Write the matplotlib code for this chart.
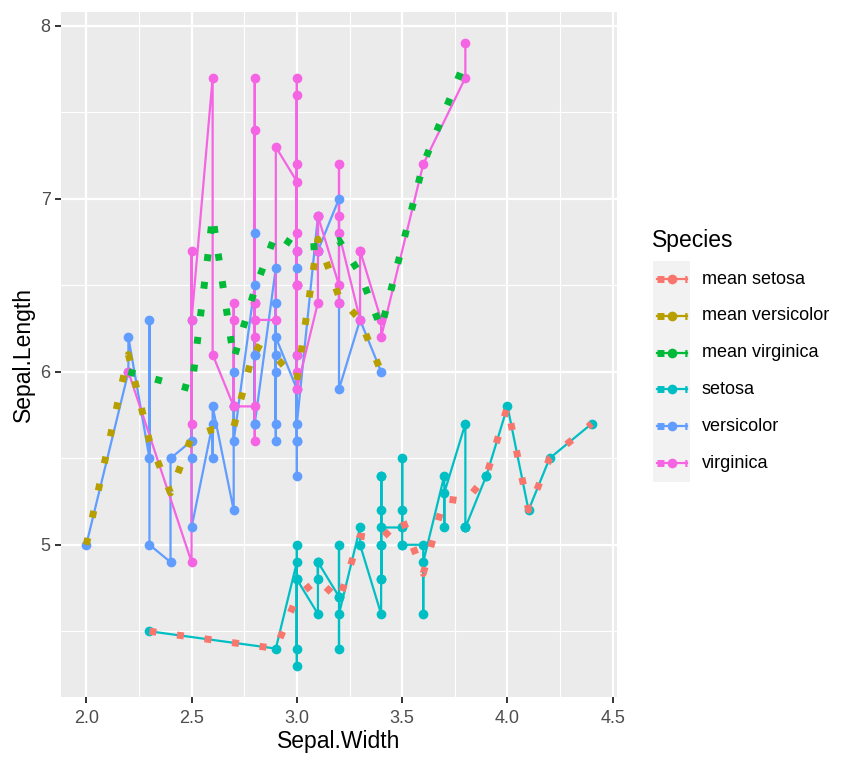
import numpy as np
import pandas as pd
import matplotlib.pyplot as plt
from matplotlib.lines import Line2D
from matplotlib.patches import Rectangle

plt.rcParams['font.family'] = ['Liberation Sans', 'DejaVu Sans']

# iris sepal measurements, per species
setosa_width = [3.5, 3.0, 3.2, 3.1, 3.6, 3.9, 3.4, 3.4, 2.9, 3.1, 3.7, 3.4, 3.0, 3.0, 4.0, 4.4, 3.9, 3.5, 3.8, 3.8,
                3.4, 3.7, 3.6, 3.3, 3.4, 3.0, 3.4, 3.5, 3.4, 3.2, 3.1, 3.4, 4.1, 4.2, 3.1, 3.2, 3.5, 3.6, 3.0, 3.4,
                3.5, 2.3, 3.2, 3.5, 3.8, 3.0, 3.8, 3.2, 3.7, 3.3]
setosa_length = [5.1, 4.9, 4.7, 4.6, 5.0, 5.4, 4.6, 5.0, 4.4, 4.9, 5.4, 4.8, 4.8, 4.3, 5.8, 5.7, 5.4, 5.1, 5.7, 5.1,
                 5.4, 5.1, 4.6, 5.1, 4.8, 5.0, 5.0, 5.2, 5.2, 4.7, 4.8, 5.4, 5.2, 5.5, 4.9, 5.0, 5.5, 4.9, 4.4, 5.1,
                 5.0, 4.5, 4.4, 5.0, 5.1, 4.8, 5.1, 4.6, 5.3, 5.0]
versicolor_width = [3.2, 3.2, 3.1, 2.3, 2.8, 2.8, 3.3, 2.4, 2.9, 2.7, 2.0, 3.0, 2.2, 2.9, 2.9, 3.1, 3.0, 2.7, 2.2, 2.5,
                    3.2, 2.8, 2.5, 2.8, 2.9, 3.0, 2.8, 3.0, 2.9, 2.6, 2.4, 2.4, 2.7, 2.7, 3.0, 3.4, 3.1, 2.3, 3.0, 2.5,
                    2.6, 3.0, 2.6, 2.3, 2.7, 3.0, 2.9, 2.9, 2.5, 2.8]
versicolor_length = [7.0, 6.4, 6.9, 5.5, 6.5, 5.7, 6.3, 4.9, 6.6, 5.2, 5.0, 5.9, 6.0, 6.1, 5.6, 6.7, 5.6, 5.8, 6.2, 5.6,
                     5.9, 6.1, 6.3, 6.1, 6.4, 6.6, 6.8, 6.7, 6.0, 5.7, 5.5, 5.5, 5.8, 6.0, 5.4, 6.0, 6.7, 6.3, 5.6, 5.5,
                     5.5, 6.1, 5.8, 5.0, 5.6, 5.7, 5.7, 6.2, 5.1, 5.7]
virginica_width = [3.3, 2.7, 3.0, 2.9, 3.0, 3.0, 2.5, 2.9, 2.5, 3.6, 3.2, 2.7, 3.0, 2.5, 2.8, 3.2, 3.0, 3.8, 2.6, 2.2,
                   3.2, 2.8, 2.8, 2.7, 3.3, 3.2, 2.8, 3.0, 2.8, 3.0, 2.8, 3.8, 2.8, 2.8, 2.6, 3.0, 3.4, 3.1, 3.0, 3.1,
                   3.1, 3.1, 2.7, 3.2, 3.3, 3.0, 2.5, 3.0, 3.4, 3.0]
virginica_length = [6.3, 5.8, 7.1, 6.3, 6.5, 7.6, 4.9, 7.3, 6.7, 7.2, 6.5, 6.4, 6.8, 5.7, 5.8, 6.4, 6.5, 7.7, 7.7, 6.0,
                    6.9, 5.6, 7.7, 6.3, 6.7, 7.2, 6.2, 6.1, 6.4, 7.2, 7.4, 7.9, 6.4, 6.3, 6.1, 7.7, 6.3, 6.4, 6.0, 6.9,
                    6.7, 6.9, 5.8, 6.8, 6.7, 6.7, 6.3, 6.5, 6.2, 5.9]

species_names = ['setosa', 'versicolor', 'virginica']
raw_colors = ['#00BFC4', '#619CFF', '#F564E3']
mean_colors = ['#F8766D', '#B79F00', '#00BA38']

data = {
    'setosa': (setosa_width, setosa_length),
    'versicolor': (versicolor_width, versicolor_length),
    'virginica': (virginica_width, virginica_length),
}

LW = 1.6     # raw lines
MS = 7.0     # points
MLW = 5.0    # mean (dotted) lines
DOTS = (1, 3)

fig = plt.figure(figsize=(8.57, 7.64), dpi=100)
ax = fig.add_axes([61 / 857, 67 / 764, 556 / 857, 685 / 764])
ax.set_facecolor('#EBEBEB')
for s in ax.spines.values():
    s.set_visible(False)

# raw lines (sorted by width, stable for ties), then points
frames = {}
for name in species_names:
    w, l = data[name]
    frames[name] = pd.DataFrame({'w': w, 'l': l}).sort_values('w', kind='mergesort')
for name, c in zip(species_names, raw_colors):
    df = frames[name]
    ax.plot(df['w'], df['l'], color=c, lw=LW, zorder=3)
for name, c in zip(species_names, raw_colors):
    df = frames[name]
    ax.plot(df['w'], df['l'], ls='none', marker='o', ms=MS, mew=0, color=c, zorder=4)

# mean sepal length at each width
for name, c in zip(species_names, mean_colors):
    m = frames[name].groupby('w')['l'].mean()
    ax.plot(m.index, m.values, color=c, lw=MLW, dashes=DOTS, dash_capstyle='butt', zorder=5)

ax.set_xlim(1.88, 4.52)
ax.set_ylim(4.12, 8.08)
ax.set_xticks([2.0, 2.5, 3.0, 3.5, 4.0, 4.5])
ax.set_xticklabels(['2.0', '2.5', '3.0', '3.5', '4.0', '4.5'])
ax.set_yticks([5, 6, 7, 8])
ax.set_xticks([2.25, 2.75, 3.25, 3.75, 4.25], minor=True)
ax.set_yticks([4.5, 5.5, 6.5, 7.5], minor=True)
ax.grid(which='major', color='white', lw=1.6, zorder=0)
ax.grid(which='minor', color='white', lw=0.8, zorder=0)
ax.set_axisbelow(True)
ax.tick_params(which='major', length=4.0, width=1.4, color='#333333', labelcolor='#4D4D4D',
               labelsize=13, pad=3.5)
ax.tick_params(axis='x', which='major', pad=5.5)
ax.tick_params(which='minor', length=0)
ax.set_xlabel('Sepal.Width', fontsize=16.5, labelpad=2)
ax.set_ylabel('Sepal.Length', fontsize=16.5, labelpad=4)

# legend drawn by hand in figure pixels
W, H = 857, 764
def fx(px):
    return px / W
def fy(py):
    return 1 - py / H

legend_labels = ['mean ' + n for n in species_names] + species_names
legend_colors = mean_colors + raw_colors
fig.text(fx(652), fy(240), 'Species', fontsize=16.5, va='center', ha='left')
fig.add_artist(Rectangle((fx(653), fy(482)), 37 / W, 221 / H, transform=fig.transFigure,
                         facecolor='#F2F2F2', edgecolor='none', zorder=0))
for i, (lab, c) in enumerate(zip(legend_labels, legend_colors)):
    yc = fy(279 + i * 36.8)
    xs = [fx(657), fx(672), fx(687)]
    fig.add_artist(Line2D(xs, [yc] * 3, color=c, lw=LW, marker='o', ms=MS, mew=0,
                          markevery=[1], transform=fig.transFigure, zorder=2))
    fig.add_artist(Line2D([xs[0], xs[2]], [yc, yc], color=c, lw=MLW, dashes=DOTS,
                          dash_capstyle='butt', transform=fig.transFigure, zorder=3))
    fig.text(fx(702), yc, lab, fontsize=13, va='center', ha='left')

fig.savefig('out.png', dpi=100)
